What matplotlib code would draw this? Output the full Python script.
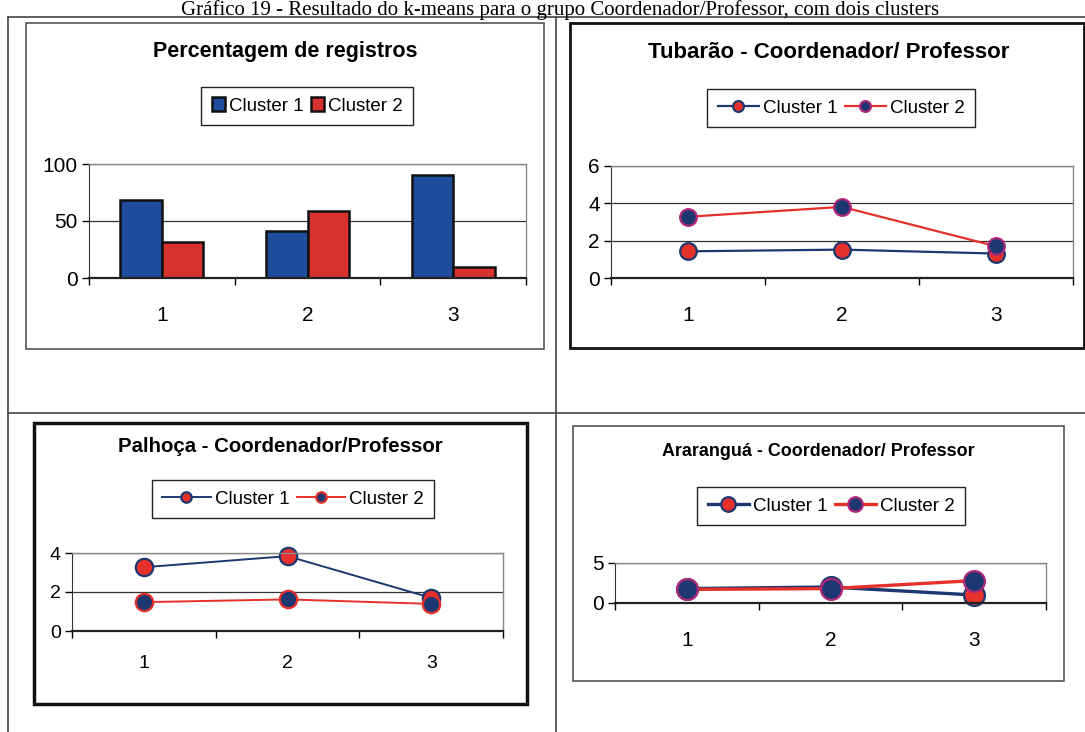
import matplotlib.pyplot as plt
from matplotlib.patches import Rectangle
from matplotlib.lines import Line2D

# dados dos quatro gráficos
categorias = [1, 2, 3]
rotulos_x = ['1', '2', '3']

perc_cluster1 = [68, 41, 90]
perc_cluster2 = [32, 59, 10]

tubarao_cluster1 = [1.43, 1.52, 1.31]
tubarao_cluster2 = [3.28, 3.81, 1.70]

palhoca_cluster1 = [3.27, 3.84, 1.70]
palhoca_cluster2 = [1.48, 1.62, 1.39]

ararangua_cluster1 = [1.8, 2.0, 1.0]
ararangua_cluster2 = [1.7, 1.8, 2.8]

AZUL_BARRA = '#1f4c9c'
VERMELHO_BARRA = '#d8322e'
AZUL = '#1d3770'
VERMELHO = '#e5302b'
MAGENTA = '#b0287a'

W, H = 1085, 732
plt.rcParams['font.family'] = ['Liberation Sans', 'DejaVu Sans']

fig = plt.figure(figsize=(W / 100, H / 100), dpi=100)


def fx(x):
    return x / W


def fy(y):
    return 1 - y / H


def area(x0, y0, x1, y1):
    return fig.add_axes([fx(x0), fy(y1), (x1 - x0) / W, (y1 - y0) / H])


def moldura(x0, y0, x1, y1, lw, cor):
    fig.patches.append(Rectangle((fx(x0), fy(y1)), (x1 - x0) / W, (y1 - y0) / H,
                                 transform=fig.transFigure, fill=False,
                                 lw=lw, ec=cor, zorder=0))


def linha(x0, y0, x1, y1, lw=1.2, cor='#444444'):
    fig.lines.append(Line2D([fx(x0), fx(x1)], [fy(y0), fy(y1)],
                            transform=fig.transFigure, lw=lw, color=cor))


def eixos(ax, ymax, passo, fs, pad_x):
    ax.set_xlim(0.5, 3.5)
    ax.set_ylim(0, ymax)
    ax.set_yticks(range(0, ymax + 1, passo))
    ax.set_xticks(categorias)
    ax.set_xticklabels(rotulos_x)
    ax.set_xticks([0.5, 1.5, 2.5, 3.5], minor=True)
    ax.tick_params(axis='x', which='major', length=0, labelsize=fs, pad=pad_x)
    ax.tick_params(axis='x', which='minor', length=5, width=1, direction='out')
    ax.tick_params(axis='y', length=5, width=1, direction='out', labelsize=fs, pad=3)
    ax.yaxis.grid(True, color='#333333', lw=0.9)
    ax.set_axisbelow(True)
    for lado in ('top', 'right'):
        ax.spines[lado].set_color('#888888')
        ax.spines[lado].set_linewidth(1.0)
    ax.spines['left'].set_color('#333333')
    ax.spines['bottom'].set_color('#222222')
    ax.spines['bottom'].set_linewidth(1.6)


def legenda(ax, cx, cy, fs, **kw):
    leg = ax.legend(loc='center', bbox_to_anchor=(fx(cx), fy(cy)),
                    bbox_transform=fig.transFigure, ncol=2, fontsize=fs,
                    frameon=True, fancybox=False, framealpha=1,
                    edgecolor='#222222', borderpad=0.55,
                    handletextpad=0.2, columnspacing=0.4, **kw)
    leg.get_frame().set_linewidth(1.0)
    return leg


def serie(ax, valores, cor_linha, cor_marca, cor_borda, lw, ms, nome):
    ax.plot(categorias, valores, color=cor_linha, lw=lw, marker='o', ms=ms,
            mfc=cor_marca, mec=cor_borda, mew=1.6, label=nome, clip_on=False)


# título da página
fig.text(fx(560), fy(0), 'Gráfico 19 - Resultado do k-means para o grupo '
         'Coordenador/Professor, com dois clusters',
         family=['Liberation Serif', 'DejaVu Serif'], fontsize=15,
         ha='center', va='top')

# linhas da tabela
linha(8, 17, 1085, 17)
linha(8, 17, 8, 732)
linha(556, 17, 556, 732)
linha(8, 413, 1085, 413)

# --- Percentagem de registros ---
moldura(26, 23, 544, 349, 1.2, '#555555')
fig.text(fx(285), fy(52), 'Percentagem de registros', fontsize=15.5,
         fontweight='bold', ha='center', va='center')
ax1 = area(89, 164, 526, 278)
larg = 1 / 3.5
ax1.bar([c - larg / 2 for c in categorias], perc_cluster1, width=larg,
        color=AZUL_BARRA, edgecolor='#111111', lw=1.8, label='Cluster 1')
ax1.bar([c + larg / 2 for c in categorias], perc_cluster2, width=larg,
        color=VERMELHO_BARRA, edgecolor='#111111', lw=1.8, label='Cluster 2')
eixos(ax1, 100, 50, 15, 20)
legenda(ax1, 307, 106, 13.5, handlelength=0.7, handleheight=0.7)

# --- Tubarão ---
moldura(570, 23, 1084, 348, 2.0, '#111111')
fig.text(fx(829), fy(53), 'Tubarão - Coordenador/ Professor', fontsize=16,
         fontweight='bold', ha='center', va='center')
ax2 = area(611, 166, 1073, 278)
serie(ax2, tubarao_cluster1, AZUL, VERMELHO, AZUL, 1.6, 12, 'Cluster 1')
serie(ax2, tubarao_cluster2, VERMELHO, AZUL, MAGENTA, 1.6, 12, 'Cluster 2')
eixos(ax2, 6, 2, 15, 20)
legenda(ax2, 841, 108, 13.5, handlelength=2.2, markerscale=0.65)

# --- Palhoça ---
moldura(34, 423, 527, 704, 2.5, '#111111')
fig.text(fx(280), fy(447), 'Palhoça - Coordenador/Professor', fontsize=14.7,
         fontweight='bold', ha='center', va='center')
ax3 = area(72, 553, 503, 631)
serie(ax3, palhoca_cluster1, AZUL, VERMELHO, AZUL, 1.4, 12.5, 'Cluster 1')
serie(ax3, palhoca_cluster2, VERMELHO, AZUL, VERMELHO, 1.4, 12.5, 'Cluster 2')
eixos(ax3, 4, 2, 14, 17)
legenda(ax3, 293, 499, 13.5, handlelength=2.6, markerscale=0.6)

# --- Araranguá ---
moldura(573, 426, 1064, 681, 1.2, '#555555')
fig.text(fx(818), fy(452), 'Araranguá - Coordenador/ Professor', fontsize=12.9,
         fontweight='bold', ha='center', va='center')
ax4 = area(615, 563, 1046, 603)
serie(ax4, ararangua_cluster1, AZUL, VERMELHO, AZUL, 2.4, 15, 'Cluster 1')
serie(ax4, ararangua_cluster2, VERMELHO, AZUL, MAGENTA, 2.4, 15, 'Cluster 2')
eixos(ax4, 5, 5, 15, 20)
legenda(ax4, 831, 506, 13.5, handlelength=2.2, markerscale=0.7)

fig.savefig('out.png', dpi=100, facecolor='white')
